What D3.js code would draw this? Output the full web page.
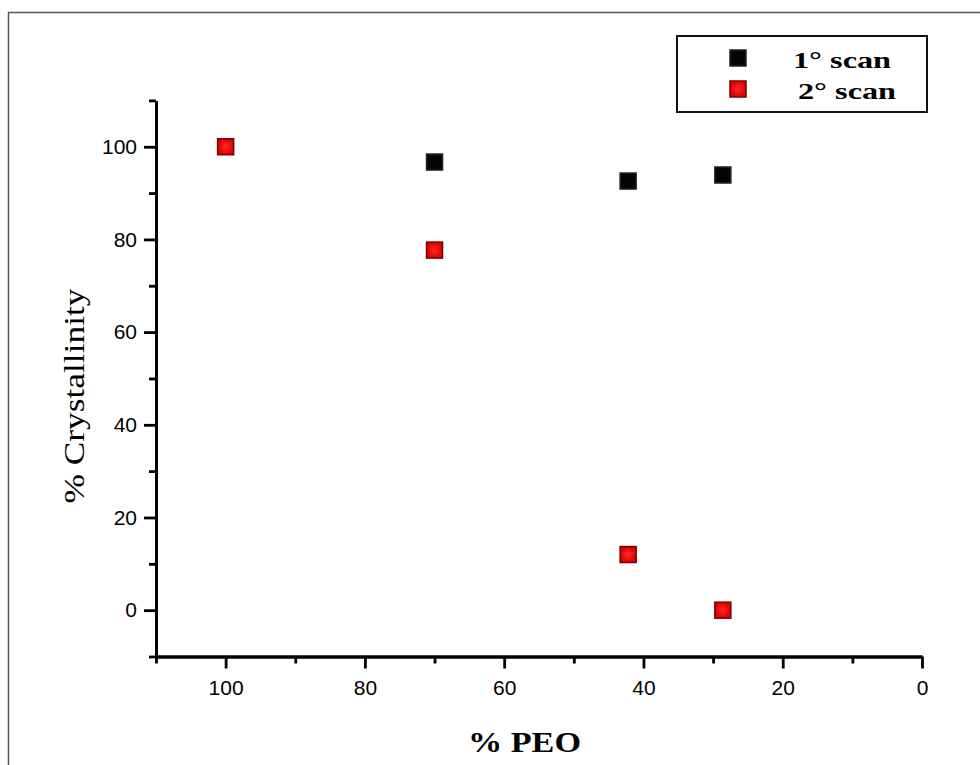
<!DOCTYPE html>
<meta charset="utf-8">
<style> /* set the CSS */

body { margin: 0; background: #fff; }

.frame {
	fill: none;
	stroke: #555;
	stroke-width: 1.5px;
}

.axis path, .axis line {
	stroke: #000;
	stroke-width: 2.8px;
}

.axis text {
	font: 21px "Liberation Sans", Arial, sans-serif;
	fill: #000;
}

.title {
	font-family: "Liberation Serif", "Times New Roman", serif;
	fill: #000;
}

.legend rect.box {
	fill: #fff;
	stroke: #111;
	stroke-width: 2px;
}

</style>

<body>

<!-- load the d3.js library -->
<script src="https://d3js.org/d3.v7.min.js"></script>
<script>

// values
var peo1 = [70, 42.2, 28.6];
var scan1 = [96.7, 92.6, 93.9];

var peo2 = [100, 70, 42.2, 28.6];
var scan2 = [100, 77.7, 12.0, 0];

var xMajor = [100, 80, 60, 40, 20, 0];
var xMinor = [110, 90, 70, 50, 30, 10];
var yMajor = [0, 20, 40, 60, 80, 100];
var yMinor = [-10, 10, 30, 50, 70, 90, 110];

var seriesNames = ["1\u00b0 scan", "2\u00b0 scan"];

// plot area in page pixels
var plot = { left: 156, right: 922, top: 100.4, bottom: 656.5 };

var x = d3.scaleLinear().domain([110, 0]).range([plot.left, plot.right]);
var y = d3.scaleLinear().domain([-10, 110]).range([plot.bottom, plot.top]);

var svg = d3.select("body").append("svg")
	.attr("width", 980)
	.attr("height", 765);

// red markers have a lighter centre
var grad = svg.append("defs").append("radialGradient").attr("id", "redglow");
grad.append("stop").attr("offset", "0%").attr("stop-color", "#ff2a2a");
grad.append("stop").attr("offset", "100%").attr("stop-color", "#dc0000");

// thin frame round the figure
svg.append("rect")
	.attr("class", "frame")
	.attr("x", 8.5).attr("y", 12.5)
	.attr("width", 1000).attr("height", 800);

// minor ticks first, then the major axes on top
svg.append("g")
	.attr("class", "axis")
	.attr("transform", "translate(0," + plot.bottom + ")")
	.call(d3.axisBottom(x).tickValues(xMinor).tickSize(7).tickFormat("").tickSizeOuter(0));
svg.append("g")
	.attr("class", "axis")
	.attr("transform", "translate(" + plot.left + ",0)")
	.call(d3.axisLeft(y).tickValues(yMinor).tickSize(7).tickFormat("").tickSizeOuter(0));

var xAxis = svg.append("g")
	.attr("class", "axis")
	.attr("transform", "translate(0," + plot.bottom + ")")
	.call(d3.axisBottom(x).tickValues(xMajor).tickSize(12).tickPadding(8).tickSizeOuter(0));
xAxis.selectAll("text").attr("dy", "0.9em");

svg.append("g")
	.attr("class", "axis")
	.attr("transform", "translate(" + plot.left + ",0)")
	.call(d3.axisLeft(y).tickValues(yMajor).tickSize(12).tickPadding(7).tickSizeOuter(0));
//

// axis titles
svg.append("text")
	.attr("class", "title")
	.attr("transform", "translate(84,396) rotate(-90)")
	.attr("text-anchor", "middle")
	.attr("textLength", 215)
	.attr("lengthAdjust", "spacingAndGlyphs")
	.style("font-size", "30px")
	.text("% Crystallinity");

svg.append("text")
	.attr("class", "title")
	.attr("x", 468).attr("y", 752)
	.attr("textLength", 113)
	.attr("lengthAdjust", "spacingAndGlyphs")
	.style("font-size", "29px")
	.style("font-weight", "bold")
	.text("% PEO");
//

// markers
var size = 16;

function squares(xs, ys, fill, stroke) {
	svg.append("g").selectAll("rect")
		.data(xs.map(function(v, i) { return [v, ys[i]]; }))
		.enter().append("rect")
			.attr("x", function(d) { return x(d[0]) - size / 2; })
			.attr("y", function(d) { return y(d[1]) - size / 2; })
			.attr("width", size).attr("height", size)
			.attr("fill", fill)
			.attr("stroke", stroke)
			.attr("stroke-width", 1.5);
}

squares(peo1, scan1, "#050505", "#222");
squares(peo2, scan2, "url(#redglow)", "#7a0000");
//

// legend
var legend = svg.append("g").attr("class", "legend");
legend.append("rect").attr("class", "box")
	.attr("x", 677).attr("y", 36).attr("width", 250).attr("height", 76);

var colors = [["#050505", "#222"], ["url(#redglow)", "#7a0000"]];
var rows = legend.selectAll("g.row")
	.data(seriesNames)
	.enter().append("g")
		.attr("class", "row")
		.attr("transform", function(d, i) { return "translate(0," + (58 + i * 31) + ")"; });

rows.append("rect")
	.attr("x", 738 - size / 2).attr("y", -size / 2)
	.attr("width", size).attr("height", size)
	.attr("fill", function(d, i) { return colors[i][0]; })
	.attr("stroke", function(d, i) { return colors[i][1]; })
	.attr("stroke-width", 1.5);

rows.append("text")
	.attr("class", "title")
	.attr("x", function(d, i) { return i ? 798 : 793; })
	.attr("y", 10)
	.attr("textLength", 98)
	.attr("lengthAdjust", "spacingAndGlyphs")
	.style("font-size", "24px")
	.style("font-weight", "bold")
	.text(function(d) { return d; });
//

</script>
</body>
